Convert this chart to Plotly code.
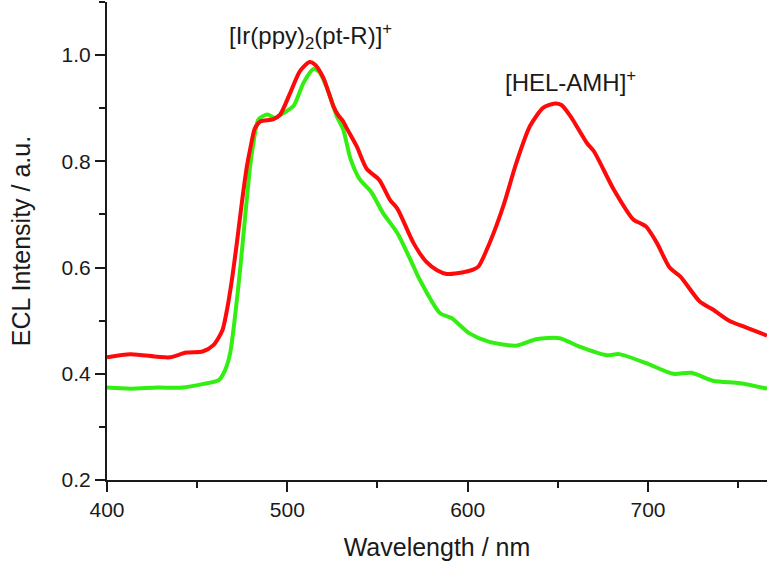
import plotly.graph_objects as go

# Red curve: Ir complex + HEL-AMH
wl_red = [400, 413, 428, 435, 444, 453, 459, 464, 466.5, 469, 472, 475, 477.6, 479.5, 482, 485,
          492, 496, 501.6, 507, 512.3, 515.4, 520, 525.5, 528, 531, 533, 538.5, 544, 551, 557, 561,
          570, 577, 583, 588.4, 597.6, 603, 606, 612.4, 619.7, 627, 634.5, 642, 648.4, 652, 657,
          666, 670, 681, 692, 696, 699, 705, 712, 718, 728.7, 736, 745, 754.6, 766]
ecl_red = [0.431, 0.437, 0.432, 0.431, 0.440, 0.442, 0.454, 0.482, 0.520, 0.571, 0.646, 0.728, 0.791,
           0.825, 0.862, 0.875, 0.879, 0.888, 0.929, 0.970, 0.987, 0.982, 0.957, 0.904, 0.888, 0.875,
           0.862, 0.828, 0.786, 0.765, 0.727, 0.711, 0.646, 0.611, 0.595, 0.588, 0.591, 0.596, 0.602,
           0.648, 0.715, 0.797, 0.866, 0.901, 0.909, 0.906, 0.885, 0.835, 0.819, 0.747, 0.690, 0.683,
           0.677, 0.646, 0.600, 0.583, 0.536, 0.521, 0.500, 0.487, 0.472]

# Green curve: Ir complex only
wl_green = [400, 413, 428, 442, 453.5, 462, 465.5, 468.3, 471, 474, 476.6, 479.4, 481, 484, 489, 493,
            498, 503.4, 509, 514.5, 518, 523, 527.4, 531, 535, 540, 545.9, 548, 553, 561, 570, 573,
            584.7, 591, 601, 612, 627, 638, 651, 662, 677, 684, 699, 714, 724, 736, 751, 766]
ecl_green = [0.374, 0.372, 0.374, 0.374, 0.381, 0.388, 0.407, 0.439, 0.508, 0.602, 0.696, 0.791, 0.830,
             0.879, 0.888, 0.882, 0.891, 0.904, 0.948, 0.974, 0.967, 0.929, 0.885, 0.860, 0.805, 0.767,
             0.745, 0.734, 0.703, 0.665, 0.602, 0.580, 0.514, 0.505, 0.476, 0.460, 0.453, 0.465, 0.467,
             0.451, 0.435, 0.437, 0.420, 0.400, 0.402, 0.387, 0.382, 0.372]

x_ticks = [400, 500, 600, 700]
y_ticks = [0.2, 0.4, 0.6, 0.8, 1.0]
y_tick_text = ["0.2", "0.4", "0.6", "0.8", "1.0"]

FONT = "Liberation Sans, Arial, sans-serif"
INK = "#1a1a1a"

fig = go.Figure()
fig.add_trace(go.Scatter(x=wl_green, y=ecl_green, mode="lines",
                         line=dict(color="#33ee11", width=4, shape="spline", smoothing=0.7),
                         showlegend=False))
fig.add_trace(go.Scatter(x=wl_red, y=ecl_red, mode="lines",
                         line=dict(color="#ff0a0a", width=4, shape="spline", smoothing=0.7),
                         showlegend=False))

fig.add_annotation(x=466.5, y=1.036, xref="x", yref="y", xanchor="left", yanchor="middle",
                   text="[Ir(ppy)<sub>2</sub>(pt-R)]<sup>+</sup>", showarrow=False,
                   font=dict(family=FONT, size=24, color=INK))
fig.add_annotation(x=619.5, y=0.951, xref="x", yref="y", xanchor="left", yanchor="middle",
                   text="[HEL-AMH]<sup>+</sup>", showarrow=False,
                   font=dict(family=FONT, size=24, color=INK))

fig.update_layout(
    width=770, height=562,
    margin=dict(l=107, r=3, t=2, b=82, autoexpand=False),
    paper_bgcolor="white", plot_bgcolor="white",
    font=dict(family=FONT, color=INK, size=21),
)
fig.update_xaxes(
    range=[400, 766], tickvals=x_ticks, showgrid=False, zeroline=False, automargin=False,
    showline=True, linecolor=INK, linewidth=2,
    ticks="outside", ticklen=10, tickwidth=2, tickcolor=INK,
    minor=dict(dtick=50, tick0=400, ticks="outside", ticklen=6, tickwidth=2, tickcolor=INK, showgrid=False),
    tickfont=dict(size=21, family=FONT, color=INK),
    title=dict(text="Wavelength / nm", font=dict(size=25, family=FONT, color=INK), standoff=18),
)
fig.update_yaxes(
    range=[0.2, 1.1], tickvals=y_ticks, ticktext=y_tick_text, showgrid=False, zeroline=False,
    automargin=False,
    showline=True, linecolor=INK, linewidth=2,
    ticks="outside", ticklen=10, tickwidth=2, tickcolor=INK,
    minor=dict(dtick=0.1, tick0=0.2, ticks="outside", ticklen=6, tickwidth=2, tickcolor=INK, showgrid=False),
    tickfont=dict(size=21, family=FONT, color=INK),
    title=dict(text="ECL Intensity / a.u.", font=dict(size=25, family=FONT, color=INK), standoff=24),
)

fig.write_html("out.html", config={"displayModeBar": False},
               post_script="document.body.style.margin='0';document.body.style.overflow='hidden';")
